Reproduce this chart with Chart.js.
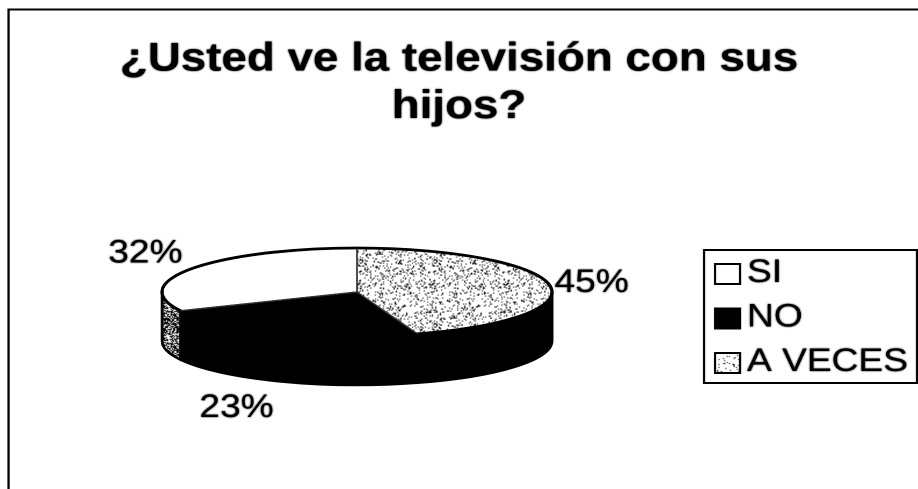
<!DOCTYPE html>
<html lang="es">
<head>
<meta charset="utf-8">
<title>¿Usted ve la televisión con sus hijos?</title>
<script src="https://cdn.jsdelivr.net/npm/chart.js@4"></script>
<style>
  html, body { margin: 0; padding: 0; background: #fff; }
</style>
</head>
<body>
<canvas id="pie" width="791" height="489" style="display:block;width:918px;height:489px"></canvas>
<script>
// Data, clockwise from twelve o'clock
const categories = ['A VECES', 'NO', 'SI'];
const values = [45, 23, 32];

const titleLines = ['¿Usted ve la televisión con sus', 'hijos?'];

// The drawing is wider than tall: logical x units are stretched to page pixels
const STRETCH = 918 / 791;
const px = v => v / STRETCH;

// Tilted disc geometry, in page pixels
const DISC = { cx: 357, cy: 292, rx: 195, ry: 44, depth: 49 };
const squash = DISC.ry / px(DISC.rx);

// Percent label offsets from the rim point at each slice's middle
const labelOffsets = [[42, -2], [-43, 76], [-47, -15]];

// Speckle tiles, built with a small integer hash so they repeat identically
function speckleTile(size, threshold) {
  const c = document.createElement('canvas');
  c.width = c.height = size;
  const g = c.getContext('2d');
  g.fillStyle = '#fff';
  g.fillRect(0, 0, size, size);
  g.fillStyle = '#000';
  for (let y = 0; y < size; y++) {
    for (let x = 0; x < size; x++) {
      const h = ((x * 73) ^ (y * 151) ^ (x * y * 31)) % 101;
      if (h < threshold) g.fillRect(x, y, 1, 1);
    }
  }
  return c;
}
const patternCtx = document.createElement('canvas').getContext('2d');
const topSpeckle = patternCtx.createPattern(speckleTile(64, 15), 'repeat');
topSpeckle.setTransform(new DOMMatrix().scale(1, 1 / squash));
const flatSpeckle = patternCtx.createPattern(speckleTile(64, 6), 'repeat');
const denseSpeckle = patternCtx.createPattern(speckleTile(32, 58), 'repeat');

const sliceFills = [topSpeckle, '#000', '#fff'];
const wallFills = ['#000', '#000', denseSpeckle];
const swatchFills = { 'SI': '#fff', 'NO': '#000', 'A VECES': flatSpeckle };

const INK = '#000';
const textFont = 'Arial, "Liberation Sans", sans-serif';
const LABEL_SIZE = 32;

const LEGEND = {
  left: 704, top: 250, right: 917, bottom: 383,
  swatchLeft: 715, swatchWidth: 25, swatchHeight: 20,
  firstSwatch: 274, firstText: 273, rowGap: 44.5, pad: 12.5
};

// Heavier ink for the text, as on a photocopied sheet
function setInkSpread(ctx, on) {
  ctx.shadowColor = on ? '#000' : 'transparent';
  ctx.shadowBlur = on ? 3.5 : 0;
}

const tiltedPie = {
  id: 'tiltedPie',

  // Places the disc centre and the legend block after the layout pass
  afterLayout(chart) {
    const a = chart.chartArea;
    const r = px(DISC.rx);
    a.left = px(DISC.cx) - r;
    a.right = px(DISC.cx) + r;
    a.top = DISC.cy - r;
    a.bottom = DISC.cy + r;
    a.width = a.height = r * 2;

    const l = chart.legend;
    l.left = px(LEGEND.swatchLeft) - LEGEND.pad;
    l.right = px(LEGEND.right);
    l.width = l.right - l.left;
    l.top = LEGEND.firstText - LABEL_SIZE / 2 - LEGEND.pad;
    l.bottom = LEGEND.bottom + 40;
    l.height = l.bottom - l.top;
  },

  // Outer frame and legend border go under everything else
  beforeDraw(chart) {
    const { ctx } = chart;
    ctx.save();
    ctx.strokeStyle = INK;
    ctx.lineWidth = 2;
    ctx.beginPath();
    ctx.moveTo(px(8.5), 489);
    ctx.lineTo(px(8.5), 9.5);
    ctx.lineTo(px(918), 9.5);
    ctx.stroke();
    ctx.strokeRect(px(LEGEND.left), LEGEND.top, px(LEGEND.right - LEGEND.left), LEGEND.bottom - LEGEND.top);
    ctx.restore();
    setInkSpread(ctx, true);
  },

  // Side wall of the disc, then the squashed context for the top face
  beforeDatasetsDraw(chart) {
    const { ctx } = chart;
    setInkSpread(ctx, false);
    const arcs = chart.getDatasetMeta(0).data;
    const cx = px(DISC.cx);
    const r = px(DISC.rx);
    const drop = DISC.depth / squash;
    arcs.forEach((arc, i) => {
      const from = Math.max(arc.startAngle, 0);
      const to = Math.min(arc.endAngle, Math.PI);
      if (to <= from) return;
      ctx.save();
      ctx.translate(cx, DISC.cy);
      ctx.scale(1, squash);
      ctx.beginPath();
      ctx.arc(0, 0, r, from, to);
      ctx.arc(0, drop, r, to, from, true);
      ctx.closePath();
      ctx.restore();
      ctx.save();
      ctx.fillStyle = wallFills[i];
      ctx.fill();
      ctx.strokeStyle = INK;
      ctx.lineWidth = 2.4;
      ctx.stroke();
      ctx.restore();
    });
    ctx.save();
    ctx.translate(cx, DISC.cy);
    ctx.scale(1, squash);
    ctx.translate(-cx, -DISC.cy);
  },

  // Rim, slice edges, percent labels and legend swatches on top
  afterDatasetsDraw(chart) {
    const { ctx } = chart;
    ctx.restore();
    const arcs = chart.getDatasetMeta(0).data;
    const cx = px(DISC.cx);
    const r = px(DISC.rx);

    arcs.forEach(arc => {
      // Thin slice edge
      ctx.save();
      ctx.translate(cx, DISC.cy);
      ctx.scale(1, squash);
      ctx.beginPath();
      ctx.moveTo(0, 0);
      ctx.arc(0, 0, r, arc.startAngle, arc.endAngle);
      ctx.closePath();
      ctx.restore();
      ctx.save();
      ctx.strokeStyle = '#333';
      ctx.lineWidth = 1.3;
      ctx.lineJoin = 'round';
      ctx.stroke();
      ctx.restore();

      // Heavier outer rim
      ctx.save();
      ctx.translate(cx, DISC.cy);
      ctx.scale(1, squash);
      ctx.beginPath();
      ctx.arc(0, 0, r, arc.startAngle, arc.endAngle);
      ctx.restore();
      ctx.save();
      ctx.strokeStyle = INK;
      ctx.lineWidth = 2.8;
      ctx.stroke();
      ctx.restore();
    });

    ctx.save();
    setInkSpread(ctx, true);
    ctx.fillStyle = INK;
    ctx.font = `${LABEL_SIZE}px ${textFont}`;
    ctx.textAlign = 'center';
    ctx.textBaseline = 'middle';
    arcs.forEach((arc, i) => {
      const mid = (arc.startAngle + arc.endAngle) / 2;
      const x = cx + r * Math.cos(mid) + px(labelOffsets[i][0]);
      const y = DISC.cy + DISC.ry * Math.sin(mid) + labelOffsets[i][1];
      ctx.fillText(`${values[i]}%`, x, y);
    });
    ctx.restore();

    ctx.save();
    ctx.strokeStyle = INK;
    ctx.lineWidth = 2;
    [...categories].reverse().forEach((name, row) => {
      const y = LEGEND.firstSwatch + row * LEGEND.rowGap - LEGEND.swatchHeight / 2;
      const x = px(LEGEND.swatchLeft);
      const w = px(LEGEND.swatchWidth);
      ctx.fillStyle = swatchFills[name];
      ctx.fillRect(x, y, w, LEGEND.swatchHeight);
      ctx.strokeRect(x, y, w, LEGEND.swatchHeight);
    });
    ctx.restore();
  }
};

new Chart(document.getElementById('pie'), {
  type: 'pie',
  data: {
    labels: categories,
    datasets: [{
      data: values,
      backgroundColor: sliceFills,
      borderWidth: 0,
      clip: false
    }]
  },
  options: {
    responsive: false,
    animation: false,
    devicePixelRatio: 2,
    radius: px(DISC.rx),
    rotation: 0,
    layout: { padding: 0 },
    plugins: {
      tooltip: { enabled: false },
      title: {
        display: true,
        text: titleLines,
        color: INK,
        align: 'center',
        font: { family: textFont, size: 39.4, weight: 'bold', lineHeight: 1.2 },
        padding: { top: 36, bottom: 0 }
      },
      legend: {
        display: true,
        position: 'right',
        align: 'start',
        reverse: true,
        labels: {
          color: INK,
          font: { family: textFont, size: LABEL_SIZE },
          boxWidth: px(LEGEND.swatchWidth) - 10,
          boxHeight: 0,
          padding: LEGEND.pad,
          generateLabels() {
            return categories.map((text, index) => ({
              text, index,
              fillStyle: 'transparent',
              strokeStyle: 'transparent',
              lineWidth: 0,
              hidden: false
            }));
          }
        }
      }
    }
  },
  plugins: [tiltedPie]
});
</script>
</body>
</html>
